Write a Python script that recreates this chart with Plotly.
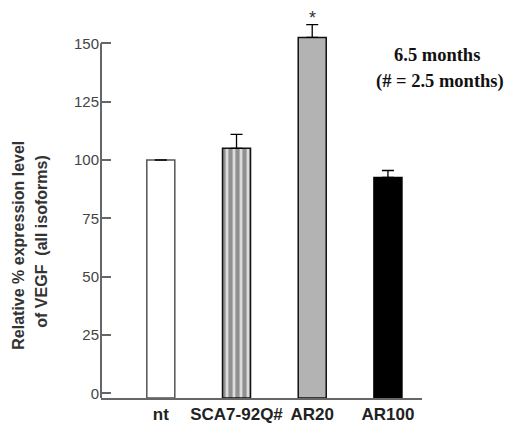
import plotly.graph_objects as go

categories = ["nt", "SCA7-92Q#", "AR20", "AR100"]
values = [100, 105, 152.5, 92.5]
errors = [None, 6, 5.5, 3]
y_ticks = [0, 25, 50, 75, 100, 125, 150]
fills = ["#ffffff", "#dcdcdc", "#b3b3b3", "#000000"]
outline = ["#555555", "#111111", "#111111", "#000000"]
patterns = ["", "|", "", ""]

# browser body has an 8px default margin: figure sized to fit inside window
OFF = 8
W, H = 519 - 2 * OFF, 432 - 2 * OFF
ml, mr, mt, mb = 93, 89, 1, 25.5
pw, ph = W - ml - mr, H - mt - mb
Y_MIN, Y_MAX = -2, 164.7

def px(x_page):
    return (x_page - OFF - ml) / pw

def py(y_page):
    return (H - mb - (y_page - OFF)) / ph

fig = go.Figure()
fig.add_trace(go.Bar(
    x=categories, y=[v - Y_MIN for v in values], base=Y_MIN, width=0.37,
    marker=dict(
        color=fills,
        line=dict(color=outline, width=1.5),
        pattern=dict(shape=patterns, fgcolor="#000000", bgcolor="#dcdcdc",
                     size=7, solidity=0.6, fillmode="overlay"),
    ),
    error_y=dict(type="data", array=errors, symmetric=False,
                 arrayminus=[0, 0, 0, 0],
                 color="#000000", thickness=1.3, width=6),
    showlegend=False,
))

# y axis line only from bottom to 150
fig.add_shape(type="line", xref="paper", yref="y", x0=0, x1=0, y0=Y_MIN, y1=150,
              line=dict(color="#666666", width=2))

fig.add_annotation(x="AR20", y=values[2] + errors[2], yref="y", text="*",
                   showarrow=False, yanchor="bottom", yshift=-5,
                   font=dict(family="Liberation Sans", size=18, color="#333333"))

fig.add_annotation(x=px(437), y=py(55), xref="paper", yref="paper",
                   text="<b>6.5 months</b>", showarrow=False,
                   xanchor="center", yanchor="middle",
                   font=dict(family="Liberation Serif", size=18.5, color="#111111"))
fig.add_annotation(x=px(440), y=py(82), xref="paper", yref="paper",
                   text="<b>(# = 2.5 months)</b>", showarrow=False,
                   xanchor="center", yanchor="middle",
                   font=dict(family="Liberation Serif", size=18.5, color="#111111"))

fig.add_annotation(x=px(19), y=py(246), xref="paper", yref="paper",
                   text="<b>Relative % expression level</b>", textangle=-90,
                   showarrow=False, xanchor="center", yanchor="middle",
                   font=dict(family="Liberation Sans", size=16, color="#333333"))
fig.add_annotation(x=px(42), y=py(242), xref="paper", yref="paper",
                   text="<b>of VEGF  (all isoforms)</b>", textangle=-90,
                   showarrow=False, xanchor="center", yanchor="middle",
                   font=dict(family="Liberation Sans", size=16, color="#333333"))

fig.update_layout(
    width=W, height=H,
    margin=dict(l=ml, r=mr, t=mt, b=mb, pad=0),
    paper_bgcolor="white", plot_bgcolor="white",
    xaxis=dict(
        range=[-0.79, 3.45], showline=True, linecolor="#666666", linewidth=2,
        ticks="", showgrid=False, zeroline=False,
        tickfont=dict(family="Liberation Sans", size=17, color="#222222"),
        tickprefix="<b>", ticksuffix="</b>",
    ),
    yaxis=dict(
        range=[Y_MIN, Y_MAX], tickvals=y_ticks, showline=False, showgrid=False,
        zeroline=False, ticks="inside", ticklen=10, tickwidth=1.5,
        tickcolor="#666666", ticklabelstandoff=1,
        tickfont=dict(family="Liberation Sans", size=15, color="#444444"),
    ),
)

fig.write_html("out.html")
